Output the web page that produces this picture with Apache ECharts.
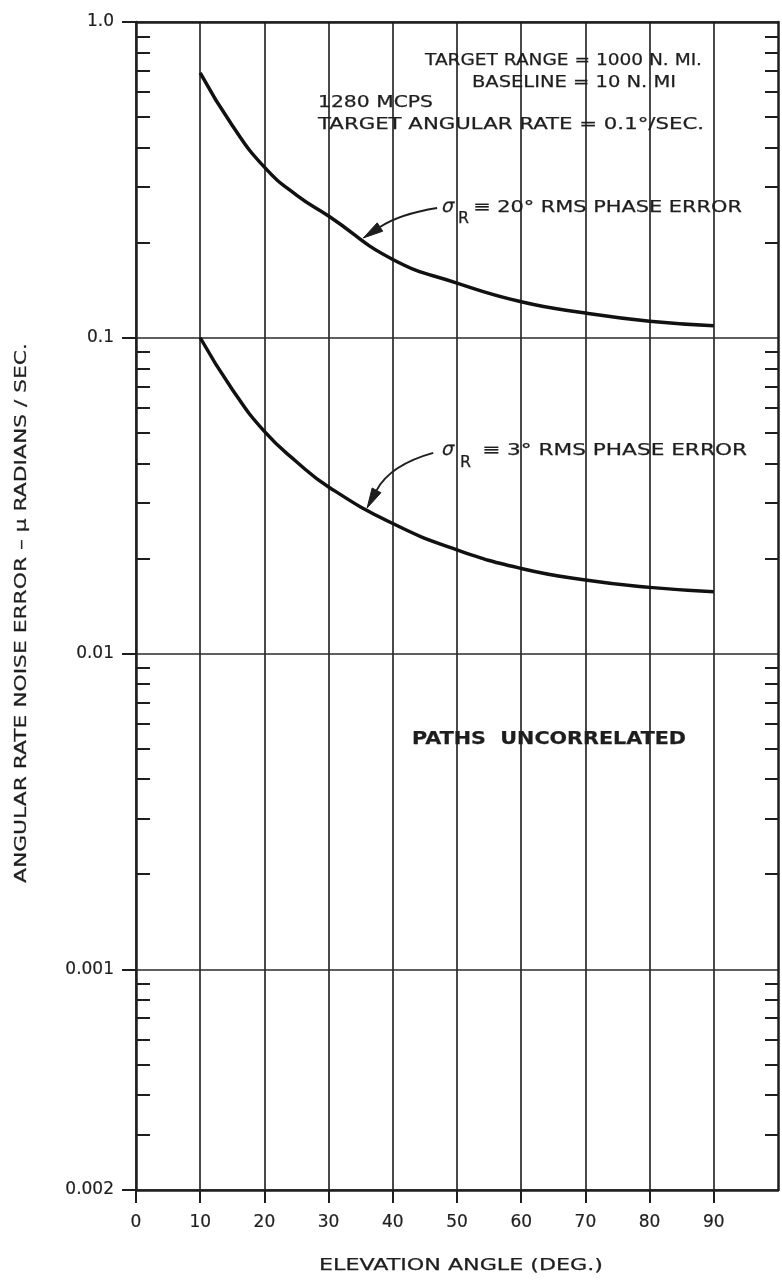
<!DOCTYPE html>
<html><head><meta charset="utf-8">
<script src="https://cdn.jsdelivr.net/npm/echarts@6/dist/echarts.min.js"></script>
<style>html,body{margin:0;padding:0;background:#fff}#c{width:782px;height:1285px}</style>
</head><body><div id="c"></div>
<script>
// ---- data ----
const elevation = [10, 15, 20, 25, 30, 40, 50, 60, 70, 80, 90];
const rms20 = [0.690, 0.470, 0.347, 0.283, 0.243, 0.177, 0.149, 0.130, 0.1197, 0.1128, 0.1092];
const rms3  = [0.100, 0.0686, 0.0505, 0.0405, 0.0337, 0.0258, 0.0213, 0.0186, 0.0171, 0.0162, 0.0157];
const xTickValues = [0, 10, 20, 30, 40, 50, 60, 70, 80, 90];
const yMajor = [0.0002, 0.001, 0.01, 0.1, 1];
const yMajorLabels = ['0.002', '0.001', '0.01', '0.1', '1.0'];
const yMinor = [0.0003, 0.0004, 0.0005, 0.0006, 0.0007, 0.0008, 0.0009,
                0.002, 0.003, 0.004, 0.005, 0.006, 0.007, 0.008, 0.009,
                0.02, 0.03, 0.04, 0.05, 0.06, 0.07, 0.08, 0.09,
                0.2, 0.3, 0.4, 0.5, 0.6, 0.7, 0.8, 0.9];
// annotation arrows: [tail, control, head] in data coordinates
const arrow20 = [[46.9, 0.2576], [41.1, 0.2466], [35.4, 0.207]];
const arrow3  = [[46.3, 0.0432], [39.6, 0.0396], [36.0, 0.0289]];

const INK = '#1e1e1e';
const FONT = '"DejaVu Sans", sans-serif';
const chart = echarts.init(document.getElementById('c'));

function pairs(xs, ys) { return xs.map((x, i) => [x, ys[i]]); }

const logAxisBase = { type: 'log', logBase: 10, min: 0.0002, max: 1, gridIndex: 0 };
const tickLabelStyle = { color: INK, fontSize: 17, fontFamily: FONT, textBorderColor: INK, textBorderWidth: 0.2 };

chart.setOption({
  animation: false,
  backgroundColor: '#ffffff',
  grid: { left: 136, right: 4, top: 22, bottom: 95 },
  xAxis: [{
    type: 'value', min: 0, max: 100, interval: 10, position: 'bottom',
    axisLine: { show: true, lineStyle: { color: INK, width: 2.5 } },
    axisTick: { show: true, inside: false, length: 13, customValues: xTickValues, lineStyle: { color: INK, width: 2 } },
    axisLabel: Object.assign({ show: true, customValues: xTickValues, margin: 24 }, tickLabelStyle),
    splitLine: { show: true, lineStyle: { color: '#2a2a2a', width: 1.7 } }
  }, {
    type: 'value', min: 0, max: 100, position: 'top',
    axisLine: { show: true, lineStyle: { color: INK, width: 2.5 } },
    axisTick: { show: false }, axisLabel: { show: false }, splitLine: { show: false }
  }],
  yAxis: [Object.assign({}, logAxisBase, {
    position: 'left',
    axisLine: { show: true, lineStyle: { color: INK, width: 2.5 } },
    axisTick: { show: true, inside: false, length: 14, customValues: yMajor, lineStyle: { color: INK, width: 2 } },
    axisLabel: Object.assign({ show: true, customValues: yMajor, margin: 22,
      formatter: v => { const i = yMajor.findIndex(m => Math.abs(m - v) / m < 1e-6); return i >= 0 ? yMajorLabels[i] : ''; } }, tickLabelStyle),
    splitLine: { show: true, lineStyle: { color: '#2a2a2a', width: 1.7 } },
    minorTick: { show: false }
  }), Object.assign({}, logAxisBase, {
    position: 'left',
    axisLine: { show: false },
    axisTick: { show: true, inside: true, length: 14, customValues: yMinor, lineStyle: { color: INK, width: 2 } },
    axisLabel: { show: false }, splitLine: { show: false }
  }), Object.assign({}, logAxisBase, {
    position: 'right',
    axisLine: { show: true, lineStyle: { color: INK, width: 2.5 } },
    axisTick: { show: true, inside: true, length: 13, customValues: yMinor, lineStyle: { color: INK, width: 2 } },
    axisLabel: { show: false }, splitLine: { show: false }
  })],
  series: [{
    name: 'σR ≡ 20° RMS PHASE ERROR', type: 'line', xAxisIndex: 0, yAxisIndex: 0,
    data: pairs(elevation, rms20), smooth: 0.5, showSymbol: false,
    lineStyle: { color: '#111', width: 3.5 }, z: 5
  }, {
    name: 'σR ≡ 3° RMS PHASE ERROR', type: 'line', xAxisIndex: 0, yAxisIndex: 0,
    data: pairs(elevation, rms3), smooth: 0.5, showSymbol: false,
    lineStyle: { color: '#111', width: 3.5 }, z: 5
  }]
});

// ---- annotations ----
const mctx = document.createElement('canvas').getContext('2d');
function txt(str, x1, x2, yc, size, weight, extra) {
  const f = (weight || 'normal') + ' ' + size + 'px ' + FONT;
  mctx.font = f;
  const w = mctx.measureText(str).width;
  return Object.assign({ type: 'text', x: x1, y: yc, scaleX: (x2 - x1) / w, z: 10,
    style: { text: str, font: f, fill: INK, stroke: INK, lineWidth: 0.25, align: 'left', verticalAlign: 'middle' } }, extra || {});
}
function vtxt(str, xc, y1, y2, size) {
  const f = 'normal ' + size + 'px ' + FONT;
  mctx.font = f;
  const w = mctx.measureText(str).width;
  return { type: 'text', x: xc, y: (y1 + y2) / 2, rotation: Math.PI / 2, scaleX: (y2 - y1) / w, z: 10,
    style: { text: str, font: f, fill: INK, stroke: INK, lineWidth: 0.25, align: 'center', verticalAlign: 'middle' } };
}
function arrow(pts) {
  const p = pts.map(d => chart.convertToPixel({ xAxisIndex: 0, yAxisIndex: 0 }, d));
  const [t, c, h] = p;
  const dx = h[0] - c[0], dy = h[1] - c[1], L = Math.hypot(dx, dy);
  const ux = dx / L, uy = dy / L, len = 20, hw = 5;
  const bx = h[0] - ux * len, by = h[1] - uy * len;
  return [{
    type: 'bezierCurve', z: 10,
    shape: { x1: t[0], y1: t[1], cpx1: c[0], cpy1: c[1], x2: bx, y2: by },
    style: { stroke: INK, lineWidth: 2, fill: null }
  }, {
    type: 'polygon', z: 10,
    shape: { points: [[h[0], h[1]], [bx - uy * hw, by + ux * hw], [bx + uy * hw, by - ux * hw]] },
    style: { fill: INK, stroke: INK, lineWidth: 1 }
  }];
}

const g = [];
g.push(txt('TARGET RANGE = 1000 N. MI.', 425, 702, 61, 16));
g.push(txt('BASELINE = 10 N. MI', 472, 676, 83, 16));
g.push(txt('1280 MCPS', 318, 433, 103, 16));
g.push(txt('TARGET ANGULAR RATE = 0.1°/SEC.', 318, 704, 125, 16));
// sigma labels
g.push(txt('σ', 442, 454, 207, 19, 'normal', { skewX: -0.25 }));
g.push(txt('R', 458, 469, 219, 16));
g.push(txt('≡ 20° RMS PHASE ERROR', 473, 742, 208, 16));
g.push(txt('σ', 442, 454, 450, 19, 'normal', { skewX: -0.25 }));
g.push(txt('R', 460, 471, 463, 16));
g.push(txt('≡ 3° RMS PHASE ERROR', 482, 747, 451, 16));
g.push(txt('PATHS  UNCORRELATED', 412, 686, 740, 17, 'bold'));
g.push(vtxt('ANGULAR RATE NOISE ERROR – μ RADIANS / SEC.', 22, 343, 883, 16));
g.push(txt('ELEVATION ANGLE (DEG.)', 319, 603, 1266, 16));
arrow(arrow20).forEach(e => g.push(e));
arrow(arrow3).forEach(e => g.push(e));
chart.setOption({ graphic: g });
</script></body></html>
